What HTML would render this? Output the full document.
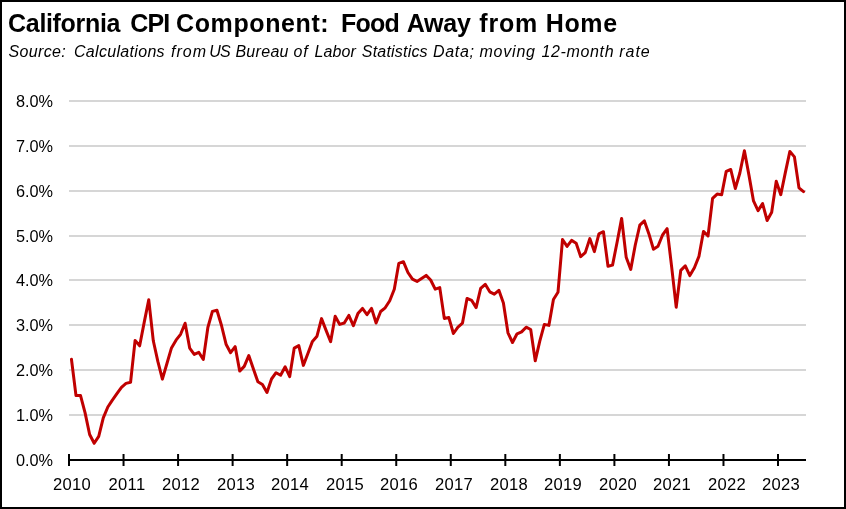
<!DOCTYPE html>
<html><head><meta charset="utf-8"><title>California CPI Component: Food Away from Home</title>
<style>
html,body{margin:0;padding:0;background:#fff;}
body{width:846px;height:509px;overflow:hidden;position:relative;font-family:"Liberation Sans",sans-serif;color:#000;}
#frame{position:absolute;left:0;top:0;width:842px;height:505px;border:2px solid #000;}
#title{position:absolute;left:0;top:8.6px;width:800px;height:28px;font-size:25px;font-weight:bold;white-space:pre;line-height:28px;}
#title span,#sub span{position:absolute;top:0;}
#sub{position:absolute;left:0;top:41.3px;width:800px;height:22px;font-size:16px;font-style:italic;white-space:pre;line-height:22px;}
.yl,.xl,#title,#sub{will-change:transform;}
.yl{position:absolute;left:0;width:53px;text-align:right;font-size:16.3px;line-height:20px;height:20px;}
.xl{position:absolute;top:474.8px;width:60px;text-align:center;font-size:16.6px;letter-spacing:0.3px;line-height:20px;height:20px;}
svg{position:absolute;left:0;top:0;}
</style></head><body>
<div id="frame"></div>
<div id="title"><span style="left:8.1px;letter-spacing:-0.332px">California</span><span style="left:130.24px;letter-spacing:-0.8px">CPI</span><span style="left:176.1px;letter-spacing:0.593px">Component:</span><span style="left:341.09px;letter-spacing:-0.8px">Food</span><span style="left:406.7px;letter-spacing:-0.217px">Away</span><span style="left:479.3px;letter-spacing:0.792px">from</span><span style="left:545.7px;letter-spacing:0.649px">Home</span></div>
<div id="sub"><span style="left:8.4px;letter-spacing:0.367px">Source:</span><span style="left:74.0px;letter-spacing:0.313px">Calculations</span><span style="left:170.96px;letter-spacing:1.0px">from</span><span style="left:209.37px;letter-spacing:-0.8px">US</span><span style="left:235.4px;letter-spacing:0.301px">Bureau</span><span style="left:293.6px;letter-spacing:0.802px">of</span><span style="left:314.4px;letter-spacing:0.152px">Labor</span><span style="left:361.8px;letter-spacing:0.198px">Statistics</span><span style="left:433.0px;letter-spacing:0.701px">Data;</span><span style="left:479.4px;letter-spacing:0.804px">moving</span><span style="left:541.4px;letter-spacing:0.658px">12-month</span><span style="left:619.16px;letter-spacing:1.0px">rate</span></div>
<div class="yl" style="top:450px">0.0%</div>
<div class="yl" style="top:405px">1.0%</div>
<div class="yl" style="top:360px">2.0%</div>
<div class="yl" style="top:315px">3.0%</div>
<div class="yl" style="top:270px">4.0%</div>
<div class="yl" style="top:226px">5.0%</div>
<div class="yl" style="top:181px">6.0%</div>
<div class="yl" style="top:136px">7.0%</div>
<div class="yl" style="top:91px">8.0%</div>
<div class="xl" style="left:42.2px">2010</div>
<div class="xl" style="left:96.7px">2011</div>
<div class="xl" style="left:151.3px">2012</div>
<div class="xl" style="left:205.8px">2013</div>
<div class="xl" style="left:260.4px">2014</div>
<div class="xl" style="left:314.9px">2015</div>
<div class="xl" style="left:369.4px">2016</div>
<div class="xl" style="left:424.0px">2017</div>
<div class="xl" style="left:478.5px">2018</div>
<div class="xl" style="left:533.1px">2019</div>
<div class="xl" style="left:587.6px">2020</div>
<div class="xl" style="left:642.1px">2021</div>
<div class="xl" style="left:696.7px">2022</div>
<div class="xl" style="left:751.2px">2023</div>

<svg width="846" height="509" viewBox="0 0 846 509">
<line x1="69" x2="806" y1="415.00" y2="415.00" stroke="#d6d6d6" stroke-width="2"/>
<line x1="69" x2="806" y1="370.00" y2="370.00" stroke="#d6d6d6" stroke-width="2"/>
<line x1="69" x2="806" y1="325.00" y2="325.00" stroke="#d6d6d6" stroke-width="2"/>
<line x1="69" x2="806" y1="280.00" y2="280.00" stroke="#d6d6d6" stroke-width="2"/>
<line x1="69" x2="806" y1="236.00" y2="236.00" stroke="#d6d6d6" stroke-width="2"/>
<line x1="69" x2="806" y1="191.00" y2="191.00" stroke="#d6d6d6" stroke-width="2"/>
<line x1="69" x2="806" y1="146.00" y2="146.00" stroke="#d6d6d6" stroke-width="2"/>
<line x1="69" x2="806" y1="101.00" y2="101.00" stroke="#d6d6d6" stroke-width="2"/>
<line x1="68" x2="806" y1="460" y2="460" stroke="#000" stroke-width="2"/>
<line x1="69.00" x2="69.00" y1="454" y2="466" stroke="#000" stroke-width="2"/>
<line x1="123.54" x2="123.54" y1="454" y2="466" stroke="#000" stroke-width="2"/>
<line x1="178.08" x2="178.08" y1="454" y2="466" stroke="#000" stroke-width="2"/>
<line x1="232.62" x2="232.62" y1="454" y2="466" stroke="#000" stroke-width="2"/>
<line x1="287.16" x2="287.16" y1="454" y2="466" stroke="#000" stroke-width="2"/>
<line x1="341.70" x2="341.70" y1="454" y2="466" stroke="#000" stroke-width="2"/>
<line x1="396.24" x2="396.24" y1="454" y2="466" stroke="#000" stroke-width="2"/>
<line x1="450.78" x2="450.78" y1="454" y2="466" stroke="#000" stroke-width="2"/>
<line x1="505.32" x2="505.32" y1="454" y2="466" stroke="#000" stroke-width="2"/>
<line x1="559.86" x2="559.86" y1="454" y2="466" stroke="#000" stroke-width="2"/>
<line x1="614.40" x2="614.40" y1="454" y2="466" stroke="#000" stroke-width="2"/>
<line x1="668.94" x2="668.94" y1="454" y2="466" stroke="#000" stroke-width="2"/>
<line x1="723.48" x2="723.48" y1="454" y2="466" stroke="#000" stroke-width="2"/>
<line x1="778.02" x2="778.02" y1="454" y2="466" stroke="#000" stroke-width="2"/>
<polyline fill="none" stroke="#c00000" stroke-width="3" stroke-linejoin="round" stroke-linecap="round" points="71.45,359.3 76.00,395.6 80.54,395.6 85.09,412.9 89.64,434.5 94.19,443.3 98.73,436.4 103.28,417.8 107.83,407.0 112.37,400.1 116.92,393.6 121.47,387.3 126.01,383.4 130.56,382.3 135.11,340.4 139.66,345.8 144.20,322.4 148.75,299.7 153.30,340.8 157.84,361.4 162.39,379.1 166.94,363.5 171.48,347.9 176.03,340.2 180.58,334.3 185.12,323.2 189.67,348.1 194.22,354.4 198.77,352.3 203.31,359.5 207.86,327.5 212.41,311.4 216.95,310.2 221.50,325.5 226.05,344.2 230.59,352.7 235.14,346.6 239.69,371.1 244.24,366.4 248.78,355.6 253.33,368.8 257.88,381.8 262.42,384.5 266.97,392.5 271.52,379.0 276.06,372.7 280.61,375.2 285.16,366.8 289.71,376.6 294.25,348.1 298.80,345.6 303.35,365.4 307.89,353.5 312.44,341.4 316.99,336.2 321.53,318.6 326.08,330.4 330.63,341.7 335.18,316.2 339.72,324.4 344.27,323.0 348.82,315.4 353.36,325.7 357.91,313.6 362.46,308.4 367.00,314.7 371.55,308.4 376.10,323.0 380.65,311.5 385.19,307.8 389.74,300.7 394.29,289.2 398.83,263.3 403.38,261.7 407.93,272.5 412.47,279.2 417.02,281.4 421.57,278.4 426.12,275.4 430.66,280.0 435.21,289.2 439.76,287.6 444.30,318.4 448.85,317.6 453.40,333.5 457.94,327.1 462.49,323.1 467.04,298.4 471.59,300.3 476.13,307.6 480.68,288.4 485.23,284.3 489.77,291.8 494.32,294.2 498.87,290.3 503.41,303.0 507.96,332.8 512.51,342.5 517.06,333.8 521.60,331.9 526.15,327.2 530.70,329.5 535.24,360.8 539.79,341.2 544.34,324.4 548.88,325.4 553.43,299.5 557.98,292.3 562.53,239.5 567.07,246.4 571.62,240.4 576.17,243.2 580.71,256.7 585.26,252.6 589.81,238.6 594.36,251.6 598.90,233.9 603.45,231.7 608.00,266.2 612.54,265.1 617.09,242.3 621.64,218.4 626.18,257.2 630.73,269.4 635.28,245.0 639.83,225.2 644.37,220.9 648.92,233.9 653.47,249.2 658.01,246.3 662.56,235.0 667.11,228.7 671.65,266.9 676.20,307.2 680.75,270.4 685.29,265.9 689.84,275.6 694.39,267.7 698.94,256.4 703.48,231.4 708.03,236.0 712.58,198.4 717.12,194.1 721.67,194.7 726.22,171.4 730.76,169.5 735.31,188.5 739.86,173.0 744.41,150.8 748.95,175.1 753.50,200.9 758.05,210.6 762.59,203.6 767.14,220.5 771.69,212.2 776.24,181.3 780.78,194.7 785.33,172.6 789.88,151.4 794.42,156.9 798.97,187.9 803.52,191.6"/>
</svg>
</body></html>
